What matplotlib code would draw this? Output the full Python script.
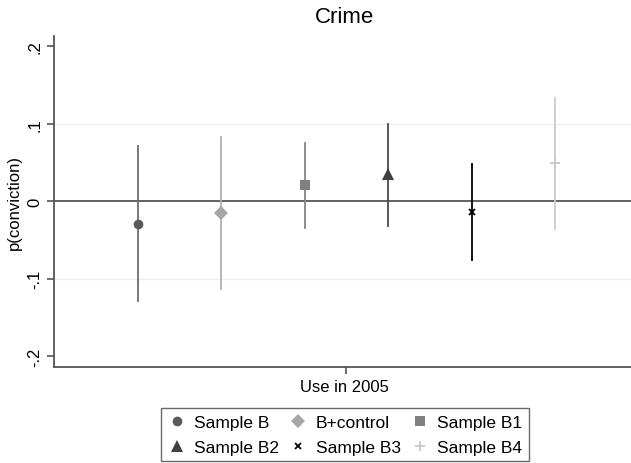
import numpy as np
import matplotlib.pyplot as plt

plt.rcParams['font.family'] = ['Liberation Sans', 'DejaVu Sans']

# estimates and 95% CI for each sample
labels = ['Sample B', 'B+control', 'Sample B1', 'Sample B2', 'Sample B3', 'Sample B4']
coef = [-0.030, -0.015, 0.021, 0.035, -0.014, 0.049]
ci_lo = [-0.129, -0.113, -0.035, -0.032, -0.076, -0.036]
ci_hi = [0.071, 0.083, 0.075, 0.099, 0.048, 0.133]

markers = ['o', 'D', 's', '^', 'x', '+']
msizes = [7, 7, 7, 8, 4, 7]
mcolors = ['#5a5a5a', '#a6a6a6', '#808080', '#404040', '#000000', '#c8c8c8']
lcolors = ['#6e6e6e', '#b0b0b0', '#858585', '#4a4a4a', '#000000', '#cccccc']

fig = plt.figure(figsize=(6.31, 4.64), dpi=100)
ax = fig.add_axes([0.0856, 0.207, 0.92, 0.713])

xpos = np.arange(len(labels)) - 2.5
handles = []
for i in range(len(labels)):
    ax.plot([xpos[i], xpos[i]], [ci_lo[i], ci_hi[i]], color=lcolors[i], lw=1.3, zorder=2)
    mew = 1.3 if markers[i] in ('x', '+') else 0
    h, = ax.plot(xpos[i], coef[i], marker=markers[i], ms=msizes[i], color=mcolors[i],
                 mew=mew, ls='none', label=labels[i], zorder=3)
    handles.append(h)

ax.axhline(0, color='#555555', lw=1.3, zorder=1)
for g in [0.1, -0.1]:
    ax.axhline(g, color='#eeeeee', lw=1, zorder=0)

ax.set_xlim(-3.5, 3.45)
ax.set_ylim(-0.214, 0.213)
ax.set_yticks([-0.2, -0.1, 0, 0.1, 0.2])
ax.set_yticklabels(['-.2', '-.1', '0', '.1', '.2'], rotation=90, va='center', fontsize=12)
ax.set_xticks([0])
ax.set_xticklabels([''])
ax.set_xlabel('Use in 2005', fontsize=12, labelpad=0)
ax.set_ylabel('p(conviction)', fontsize=12, labelpad=4)
ax.set_title('Crime', fontsize=16, pad=10)

for s in ['top', 'right']:
    ax.spines[s].set_visible(False)
for s in ['left', 'bottom']:
    ax.spines[s].set_color('#555555')
    ax.spines[s].set_linewidth(1.3)
ax.tick_params(colors='#555555', labelcolor='black', length=5, width=1.2)

# row-wise legend order (matplotlib fills by column)
order = [0, 3, 1, 4, 2, 5]
leg = fig.legend([handles[k] for k in order], [labels[k] for k in order],
                 loc='lower center', bbox_to_anchor=(0.546, -0.015), ncol=3, fontsize=12.5,
                 frameon=True, fancybox=False, edgecolor='#444444', handletextpad=0.4,
                 columnspacing=0.5, handlelength=1.2, borderpad=0.35, labelspacing=0.6)
leg.get_frame().set_linewidth(1.0)

fig.savefig('out.png', dpi=100)
